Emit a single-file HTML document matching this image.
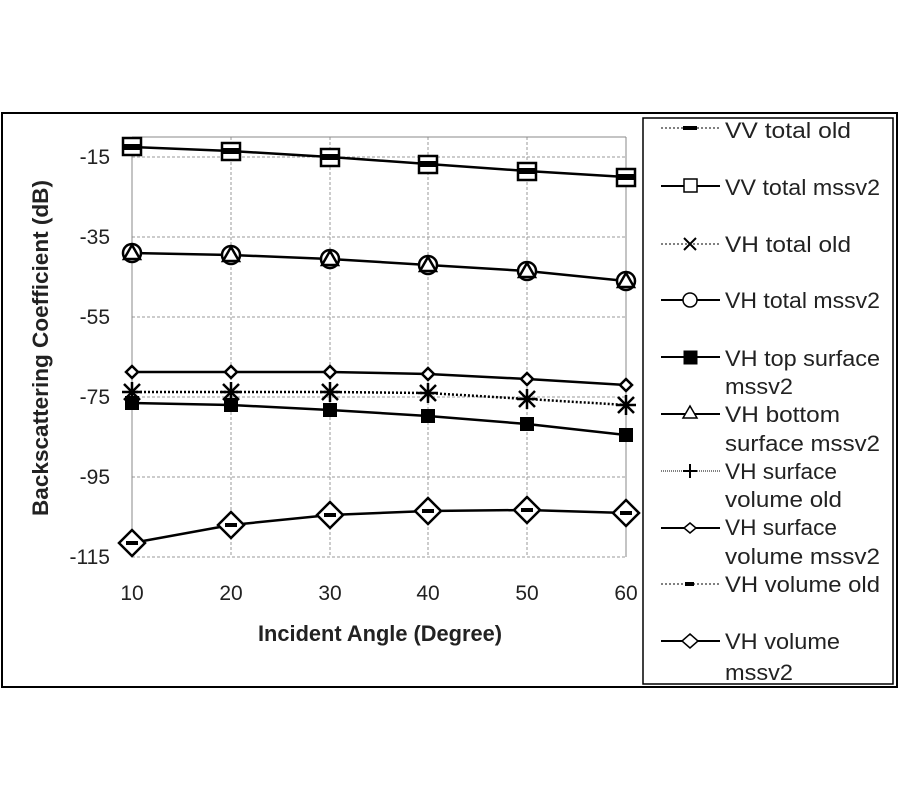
<!DOCTYPE html>
<html><head><meta charset="utf-8"><style>
body{margin:0;background:#fff;}
svg{display:block;font-family:"Liberation Sans",sans-serif;}
</style></head><body>
<svg width="900" height="800" viewBox="0 0 900 800">
<rect x="2" y="113" width="895" height="574" fill="#fff" stroke="#000" stroke-width="2"/>
<g stroke="#999" stroke-width="1" stroke-dasharray="3,2" fill="none">
<line x1="132" y1="157" x2="626" y2="157"/>
<line x1="132" y1="237" x2="626" y2="237"/>
<line x1="132" y1="317" x2="626" y2="317"/>
<line x1="132" y1="397" x2="626" y2="397"/>
<line x1="132" y1="477" x2="626" y2="477"/>
<line x1="132" y1="557" x2="626" y2="557"/>
<line x1="231" y1="137" x2="231" y2="557"/>
<line x1="330" y1="137" x2="330" y2="557"/>
<line x1="428" y1="137" x2="428" y2="557"/>
<line x1="527" y1="137" x2="527" y2="557"/>
</g>
<g stroke="#888" stroke-width="1" fill="none">
<line x1="132" y1="137" x2="626" y2="137"/>
<line x1="132" y1="137" x2="132" y2="557"/>
<line x1="626" y1="137" x2="626" y2="557"/>
</g>
<g font-size="21" fill="#222" text-anchor="end">
<text x="110" y="164">-15</text><text x="110" y="244">-35</text><text x="110" y="324">-55</text>
<text x="110" y="404">-75</text><text x="110" y="484">-95</text><text x="110" y="564">-115</text>
</g>
<g font-size="21" fill="#222" text-anchor="middle">
<text x="132" y="600">10</text><text x="231" y="600">20</text><text x="330" y="600">30</text>
<text x="428" y="600">40</text><text x="527" y="600">50</text><text x="626" y="600">60</text>
</g>
<text x="380" y="641" font-size="22" font-weight="bold" text-anchor="middle" fill="#222" textLength="244" lengthAdjust="spacingAndGlyphs">Incident Angle (Degree)</text>
<text transform="translate(48,348) rotate(-90)" font-size="22" font-weight="bold" text-anchor="middle" fill="#222" textLength="336" lengthAdjust="spacingAndGlyphs">Backscattering Coefficient (dB)</text>
<g fill="none" stroke="#000" stroke-width="2.5">
<polyline points="132,147 231,151 330,157 428,164 527,171 626,177"/>
<polyline points="132,253 231,255 330,259 428,265 527,271 626,281"/>
<polyline points="132,372 231,372 330,372 428,374 527,379 626,385"/>
<polyline points="132,403 231,405 330,410 428,416 527,424 626,435"/>
<polyline points="132,543 231,525 330,515 428,511 527,510 626,513"/>
<polyline points="132,392 231,392 330,392 428,393 527,399 626,405" stroke-dasharray="2,2"/>
</g>
<g stroke="#000" stroke-width="2.5" fill="#fff">
<rect x="123" y="138" width="18" height="17"/><rect x="222" y="143" width="18" height="17"/><rect x="321" y="149" width="18" height="17"/>
<rect x="419" y="156" width="18" height="17"/><rect x="518" y="163" width="18" height="17"/><rect x="617" y="169" width="18" height="17"/>
<circle cx="132" cy="253" r="9"/><circle cx="231" cy="255" r="9"/><circle cx="330" cy="259" r="9"/>
<circle cx="428" cy="265" r="9"/><circle cx="527" cy="271" r="9"/><circle cx="626" cy="281" r="9"/>
<path d="M132,245 l8,14 h-16z M231,247 l8,14 h-16z M330,251 l8,14 h-16z M428,257 l8,14 h-16z M527,263 l8,14 h-16z M626,273 l8,14 h-16z" fill="none"/>
<path d="M132,366 l6,6 l-6,6 l-6,-6z M231,366 l6,6 l-6,6 l-6,-6z M330,366 l6,6 l-6,6 l-6,-6z M428,368 l6,6 l-6,6 l-6,-6z M527,373 l6,6 l-6,6 l-6,-6z M626,379 l6,6 l-6,6 l-6,-6z"/>
<path d="M132,530 l13,13 l-13,13 l-13,-13z M231,512 l13,13 l-13,13 l-13,-13z M330,502 l13,13 l-13,13 l-13,-13z M428,498 l13,13 l-13,13 l-13,-13z M527,497 l13,13 l-13,13 l-13,-13z M626,500 l13,13 l-13,13 l-13,-13z"/>
</g>
<g fill="#000">
<rect x="124" y="144" width="16" height="6"/><rect x="223" y="148" width="16" height="6"/><rect x="322" y="154" width="16" height="6"/>
<rect x="420" y="161" width="16" height="6"/><rect x="519" y="168" width="16" height="6"/><rect x="618" y="174" width="16" height="6"/>
<rect x="125" y="396" width="14" height="14"/><rect x="224" y="398" width="14" height="14"/><rect x="323" y="403" width="14" height="14"/>
<rect x="421" y="409" width="14" height="14"/><rect x="520" y="417" width="14" height="14"/><rect x="619" y="428" width="14" height="14"/>
<rect x="126" y="541" width="12" height="4"/><rect x="225" y="523" width="12" height="4"/><rect x="324" y="513" width="12" height="4"/>
<rect x="422" y="509" width="12" height="4"/><rect x="521" y="508" width="12" height="4"/><rect x="620" y="511" width="12" height="4"/>
</g>
<g stroke="#000" stroke-width="2.5">
<path d="M124,384 l16,16 M140,384 l-16,16 M132,382 v20 M122,392 h20"/>
<path d="M223,384 l16,16 M239,384 l-16,16 M231,382 v20 M221,392 h20"/>
<path d="M322,384 l16,16 M338,384 l-16,16 M330,382 v20 M320,392 h20"/>
<path d="M420,385 l16,16 M436,385 l-16,16 M428,383 v20 M418,393 h20"/>
<path d="M519,391 l16,16 M535,391 l-16,16 M527,389 v20 M517,399 h20"/>
<path d="M618,397 l16,16 M634,397 l-16,16 M626,395 v20 M616,405 h20"/>
</g>
<rect x="643" y="118" width="250" height="566" fill="#fff" stroke="#000" stroke-width="1.5"/>
<g stroke="#000" fill="#fff">
<line x1="661" y1="128" x2="720" y2="128" stroke-width="1" stroke-dasharray="2,2"/><rect x="683" y="126" width="14" height="4" fill="#000" stroke="none"/>
<line x1="661" y1="186" x2="720" y2="186" stroke-width="2"/><rect x="684" y="179" width="13" height="13" stroke-width="1.5"/>
<line x1="661" y1="244" x2="720" y2="244" stroke-width="1" stroke-dasharray="2,2"/><path d="M684,238 l12,12 M696,238 l-12,12" stroke-width="2"/>
<line x1="661" y1="300" x2="720" y2="300" stroke-width="2"/><circle cx="690" cy="300" r="7" stroke-width="1.5"/>
<line x1="661" y1="357" x2="720" y2="357" stroke-width="2"/><rect x="684" y="351" width="13" height="13" fill="#000"/>
<line x1="661" y1="414" x2="720" y2="414" stroke-width="2"/><path d="M690,406 l7,12 h-14z" stroke-width="1.5"/>
<line x1="661" y1="471" x2="720" y2="471" stroke-width="1" stroke-dasharray="1,1"/><path d="M690,464 v14 M683,471 h14" stroke-width="2"/>
<line x1="661" y1="528" x2="720" y2="528" stroke-width="2"/><path d="M690,523 l6,5 l-6,5 l-6,-5z" stroke-width="1.5"/>
<line x1="661" y1="584" x2="720" y2="584" stroke-width="1" stroke-dasharray="2,2"/><rect x="685" y="582" width="9" height="4" fill="#000" stroke="none"/>
<line x1="661" y1="641" x2="720" y2="641" stroke-width="2"/><path d="M690,634 l8,7 l-8,7 l-8,-7z" stroke-width="1.5"/>
</g>
<g font-size="22" fill="#222" lengthAdjust="spacingAndGlyphs">
<text x="725" y="138" textLength="126" lengthAdjust="spacingAndGlyphs">VV total old</text>
<text x="725" y="195" textLength="155" lengthAdjust="spacingAndGlyphs">VV total mssv2</text>
<text x="725" y="252" textLength="126" lengthAdjust="spacingAndGlyphs">VH total old</text>
<text x="725" y="308" textLength="155" lengthAdjust="spacingAndGlyphs">VH total mssv2</text>
<text x="725" y="366" textLength="155" lengthAdjust="spacingAndGlyphs">VH top surface</text>
<text x="725" y="394" textLength="68" lengthAdjust="spacingAndGlyphs">mssv2</text>
<text x="725" y="422" textLength="115" lengthAdjust="spacingAndGlyphs">VH bottom</text>
<text x="725" y="451" textLength="155" lengthAdjust="spacingAndGlyphs">surface mssv2</text>
<text x="725" y="479" textLength="112" lengthAdjust="spacingAndGlyphs">VH surface</text>
<text x="725" y="507" textLength="117" lengthAdjust="spacingAndGlyphs">volume old</text>
<text x="725" y="535" textLength="112" lengthAdjust="spacingAndGlyphs">VH surface</text>
<text x="725" y="564" textLength="155" lengthAdjust="spacingAndGlyphs">volume mssv2</text>
<text x="725" y="592" textLength="155" lengthAdjust="spacingAndGlyphs">VH volume old</text>
<text x="725" y="649" textLength="115" lengthAdjust="spacingAndGlyphs">VH volume</text>
<text x="725" y="680" textLength="68" lengthAdjust="spacingAndGlyphs">mssv2</text>
</g>
</svg>
</body></html>
